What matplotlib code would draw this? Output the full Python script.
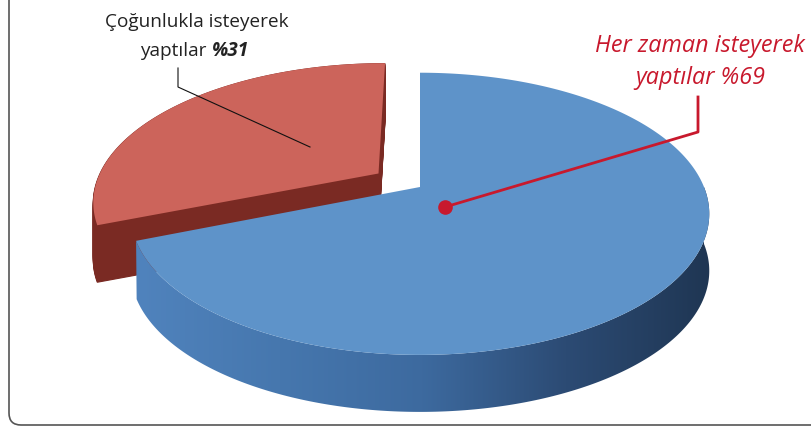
import numpy as np
import matplotlib
matplotlib.use("Agg")
import matplotlib.pyplot as plt
from matplotlib.transforms import Transform
from matplotlib.path import Path
from matplotlib.patches import PathPatch, FancyBboxPatch
from matplotlib.colors import LinearSegmentedColormap

# ---- data ----
categories = ["Her zaman isteyerek yaptılar", "Çoğunlukla isteyerek yaptılar"]
values = [69, 31]
explode = [0, 0.18]
top_colors = ["#5e93c9", "#cc645b"]
side_colors = ["#3f6ca2", "#7a2a23"]
label_left_1 = "Çoğunlukla isteyerek"
label_left_2a = "yaptılar"
label_left_2b = "%31"
label_right = "Her zaman isteyerek\nyaptılar %69"

W, H = 811, 430
CX, CY, BX, AY, K = 420, 187, 284, 136, 0.19
DEPTH = 57


class Persp(Transform):
    input_dims = 2
    output_dims = 2
    is_separable = False
    has_inverse = False

    def __init__(self, drop=0.0):
        super().__init__()
        self.drop = drop

    def transform_non_affine(self, values):
        values = np.asarray(values, float)
        u, v = values[:, 0], values[:, 1]
        d = 1 + K * v
        return np.column_stack([CX + BX * u / d, CY - AY * v / d + self.drop])

    def transform_path_non_affine(self, path):
        pts = []
        tt = np.linspace(0, 1, 40)[1:]
        for bez, code in path.iter_bezier():
            cp = bez.control_points
            if code == Path.MOVETO:
                pts.append(cp[0])
                continue
            if len(pts) == 0:
                pts.append(cp[0])
            pts.extend(np.atleast_2d(bez(tt)))
        verts = np.asarray(pts, float)
        return Path(self.transform_non_affine(verts), closed=True)


fig = plt.figure(figsize=(W / 100, H / 100), dpi=100)
ax = fig.add_axes([0, 0, 1, 1])
wedges, _ = ax.pie(values, colors=top_colors, startangle=90, counterclock=False,
                   explode=explode, radius=1, center=(0, 0))
ax.set_aspect("auto")
ax.set_xlim(0, W)
ax.set_ylim(H, 0)
ax.axis("off")

blue, red = wedges
for w in wedges:
    w.set_visible(False)

# red slice: side by stacking, then top
rpath = red.get_path()
for drop in np.linspace(DEPTH, 0.5, 60):
    ax.add_patch(PathPatch(rpath, facecolor=side_colors[1], edgecolor=side_colors[1],
                           lw=0.8, transform=Persp(drop) + ax.transData, zorder=2))
ax.add_patch(PathPatch(rpath, facecolor=top_colors[1], edgecolor="none",
                       transform=Persp(0) + ax.transData, zorder=3))

# blue slice side band with gradient
t = np.radians(np.linspace(blue.theta1, 0, 300))
arc = np.column_stack([np.cos(t), np.sin(t)]) + np.array(blue.center)
top_arc = Persp(0).transform_non_affine(arc)
bot_arc = Persp(DEPTH).transform_non_affine(arc)
band = np.vstack([top_arc, bot_arc[::-1]])
band_patch = PathPatch(Path(band, closed=True), facecolor="none", edgecolor="none", zorder=4)
ax.add_patch(band_patch)
cmap = LinearSegmentedColormap.from_list(
    "side", ["#5083bd", "#4677ae", "#3d6a9f", "#2c4b74", "#1f3653"])
grad = np.linspace(0, 1, 256).reshape(1, -1)
im = ax.imshow(grad, cmap=cmap, extent=(band[:, 0].min(), band[:, 0].max(), 430, 150),
               aspect="auto", zorder=4, interpolation="bicubic")
im.set_clip_path(band_patch)
ax.set_xlim(0, W)
ax.set_ylim(H, 0)

ax.add_patch(PathPatch(blue.get_path(), facecolor=top_colors[0], edgecolor="none",
                       transform=Persp(0) + ax.transData, zorder=5))

# frame
ax.add_patch(FancyBboxPatch((9, -60), 900, 485, boxstyle="round,pad=0,rounding_size=12",
                            facecolor="none", edgecolor="#555555", lw=1.2, zorder=10))

# labels
font = "Open Sans"
ax.text(197, 22, label_left_1, ha="center", va="center", fontsize=13.7,
        family=font, color="#222222", zorder=11)
ax.text(207, 51, label_left_2a, ha="right", va="center", fontsize=13.7,
        family=font, color="#222222", zorder=11)
ax.text(212, 51, label_left_2b, ha="left", va="center", fontsize=13.7,
        family=font, color="#222222", weight="bold", style="italic", zorder=11)
ax.plot([178, 178, 310], [68, 87, 147], color="#111111", lw=0.8, zorder=11)

red_c = "#c8192d"
ax.text(700, 62, label_right, ha="center", va="center", fontsize=16.8,
        family=font, style="italic", color=red_c, linespacing=1.45, zorder=11)
ax.plot([698, 698, 445], [97, 132, 207], color=red_c, lw=2, zorder=11)
ax.plot([445], [207], "o", color=red_c, markersize=9.5, zorder=12)

fig.savefig("out.png", dpi=100)
